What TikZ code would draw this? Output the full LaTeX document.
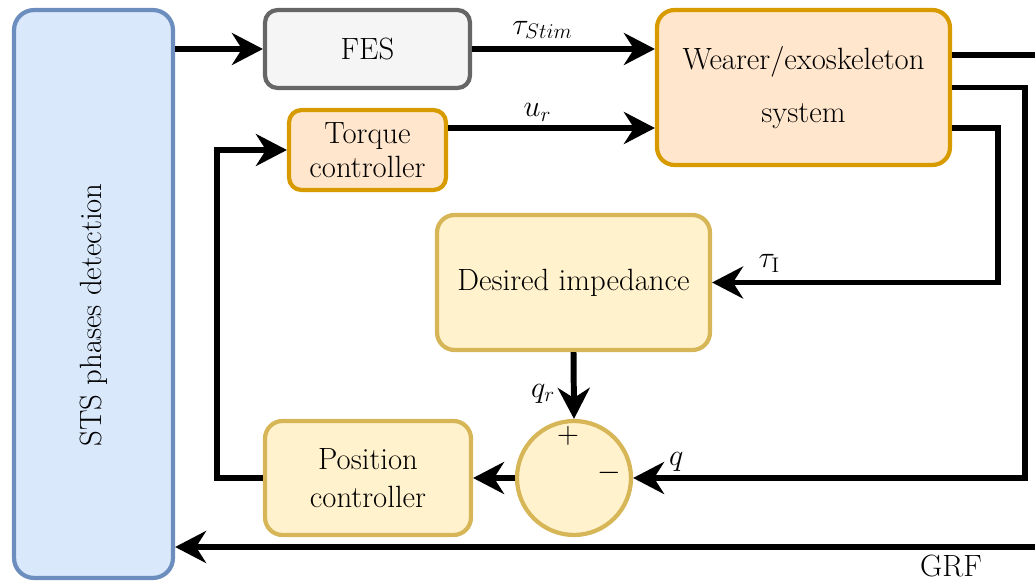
\documentclass[tikz,border=0pt]{standalone}
\usepackage{tikz}
\usetikzlibrary{arrows.meta, positioning, calc}
\definecolor{stsfill}{HTML}{DAE8FC}
\definecolor{stsline}{HTML}{6C8EBF}
\definecolor{fesfill}{HTML}{F5F5F5}
\definecolor{fesline}{HTML}{666666}
\definecolor{sysfill}{HTML}{FFE6CC}
\definecolor{sysline}{HTML}{D79B00}
\definecolor{ctlfill}{HTML}{FFF2CC}
\definecolor{ctlline}{HTML}{D6B656}

\begin{document}
\begin{tikzpicture}[
    x=0.02cm, y=-0.02cm,
    block/.style={draw, rounded corners=0.35cm, line width=2.4pt,
                  align=center, inner sep=0pt,
                  font=\fontsize{17.5}{20}\selectfont},
    sig/.style={line width=3.4pt,
                -{Stealth[length=0.62cm, width=0.64cm]}},
    wire/.style={line width=3.4pt},
    lbl/.style={font=\fontsize{17.5}{20}\selectfont, inner sep=1pt}
  ]
  \useasboundingbox (0,0) rectangle (1035,587);

  % Blocks
  \node[block, fill=stsfill, draw=stsline, minimum width=3.18cm,
        minimum height=11.36cm, rounded corners=0.4cm] (sts) at (93.5,294) {};
  \node[lbl, rotate=90] (ststxt) at (94,315) {STS phases detection};
  \node[block, fill=fesfill, draw=fesline, minimum width=4.1cm,
        minimum height=1.56cm, rounded corners=0.25cm] (fes) at (367.5,49) {FES};
  \node[block, fill=sysfill, draw=sysline, minimum width=5.86cm,
        minimum height=3.1cm, font=\fontsize{17.5}{30}\selectfont]
        (wearer) at (803.5,87.5) {Wearer/exoskeleton\\system};
  \node[block, fill=sysfill, draw=sysline, minimum width=3.14cm,
        minimum height=1.6cm, rounded corners=0.25cm,
        font=\fontsize{17.5}{19}\selectfont]
        (torque) at (367.5,150) {Torque\\controller};
  \node[block, fill=ctlfill, draw=ctlline, minimum width=5.46cm,
        minimum height=2.7cm] (desired) at (573.5,282.5) {Desired impedance};
  \node[draw=ctlline, fill=ctlfill, line width=2.4pt, circle,
        minimum size=2.28cm, inner sep=0pt] (sum) at (574,478) {};
  \node[block, fill=ctlfill, draw=ctlline, minimum width=4.12cm,
        minimum height=2.28cm, font=\fontsize{17.5}{21.5}\selectfont]
        (position) at (368,478) {Position\\controller};

  % Signs of the summing point
  \node[lbl] (plus) at (568,436) {$+$};
  \node[lbl] (minus) at (609,473) {$-$};

  % Turning points
  \coordinate (urlev) at (550,128);
  \coordinate (yout) at (1035,55);
  \coordinate (qturn) at (1025,87.5);
  \coordinate (tauturn) at (998,128);
  \coordinate (fb) at (217,300);
  \coordinate (grfin) at (1035,547);

  % Forward path
  \draw[sig] (fes.west -| sts.east) -- (fes.west);
  \draw[sig] (fes.east) -- (fes.east -| wearer.west)
    node[lbl, midway, above=3pt, xshift=-12pt] {$\tau_{Stim}$};
  \draw[sig] (urlev -| torque.east) -- (urlev -| wearer.west)
    node[lbl, midway, above=1pt, xshift=-8pt] {$u_r$};
  \draw[wire] (yout -| wearer.east) -- (yout);

  % Feedback paths
  \draw[sig] (wearer.east) -- (qturn) |- (sum.east)
    node[lbl, pos=0.945, above=1pt] {$q$};
  \draw[sig] (tauturn -| wearer.east) -- (tauturn) |- (desired.east)
    node[lbl, pos=0.9, above=3pt] {$\tau_{\mathrm{I}}$};
  \draw[sig] (desired.south) -- (sum.north)
    node[lbl, pos=0.62, left=8pt] {$q_r$};
  \draw[sig] (sum.west) -- (position.east);
  \draw[sig] (position.west) -| (fb) |- (torque.west);

  % Ground reaction force
  \draw[sig] (grfin) -- (grfin -| sts.east);
  \node[lbl] (grf) at (951,566) {GRF};
\end{tikzpicture}
\end{document}
